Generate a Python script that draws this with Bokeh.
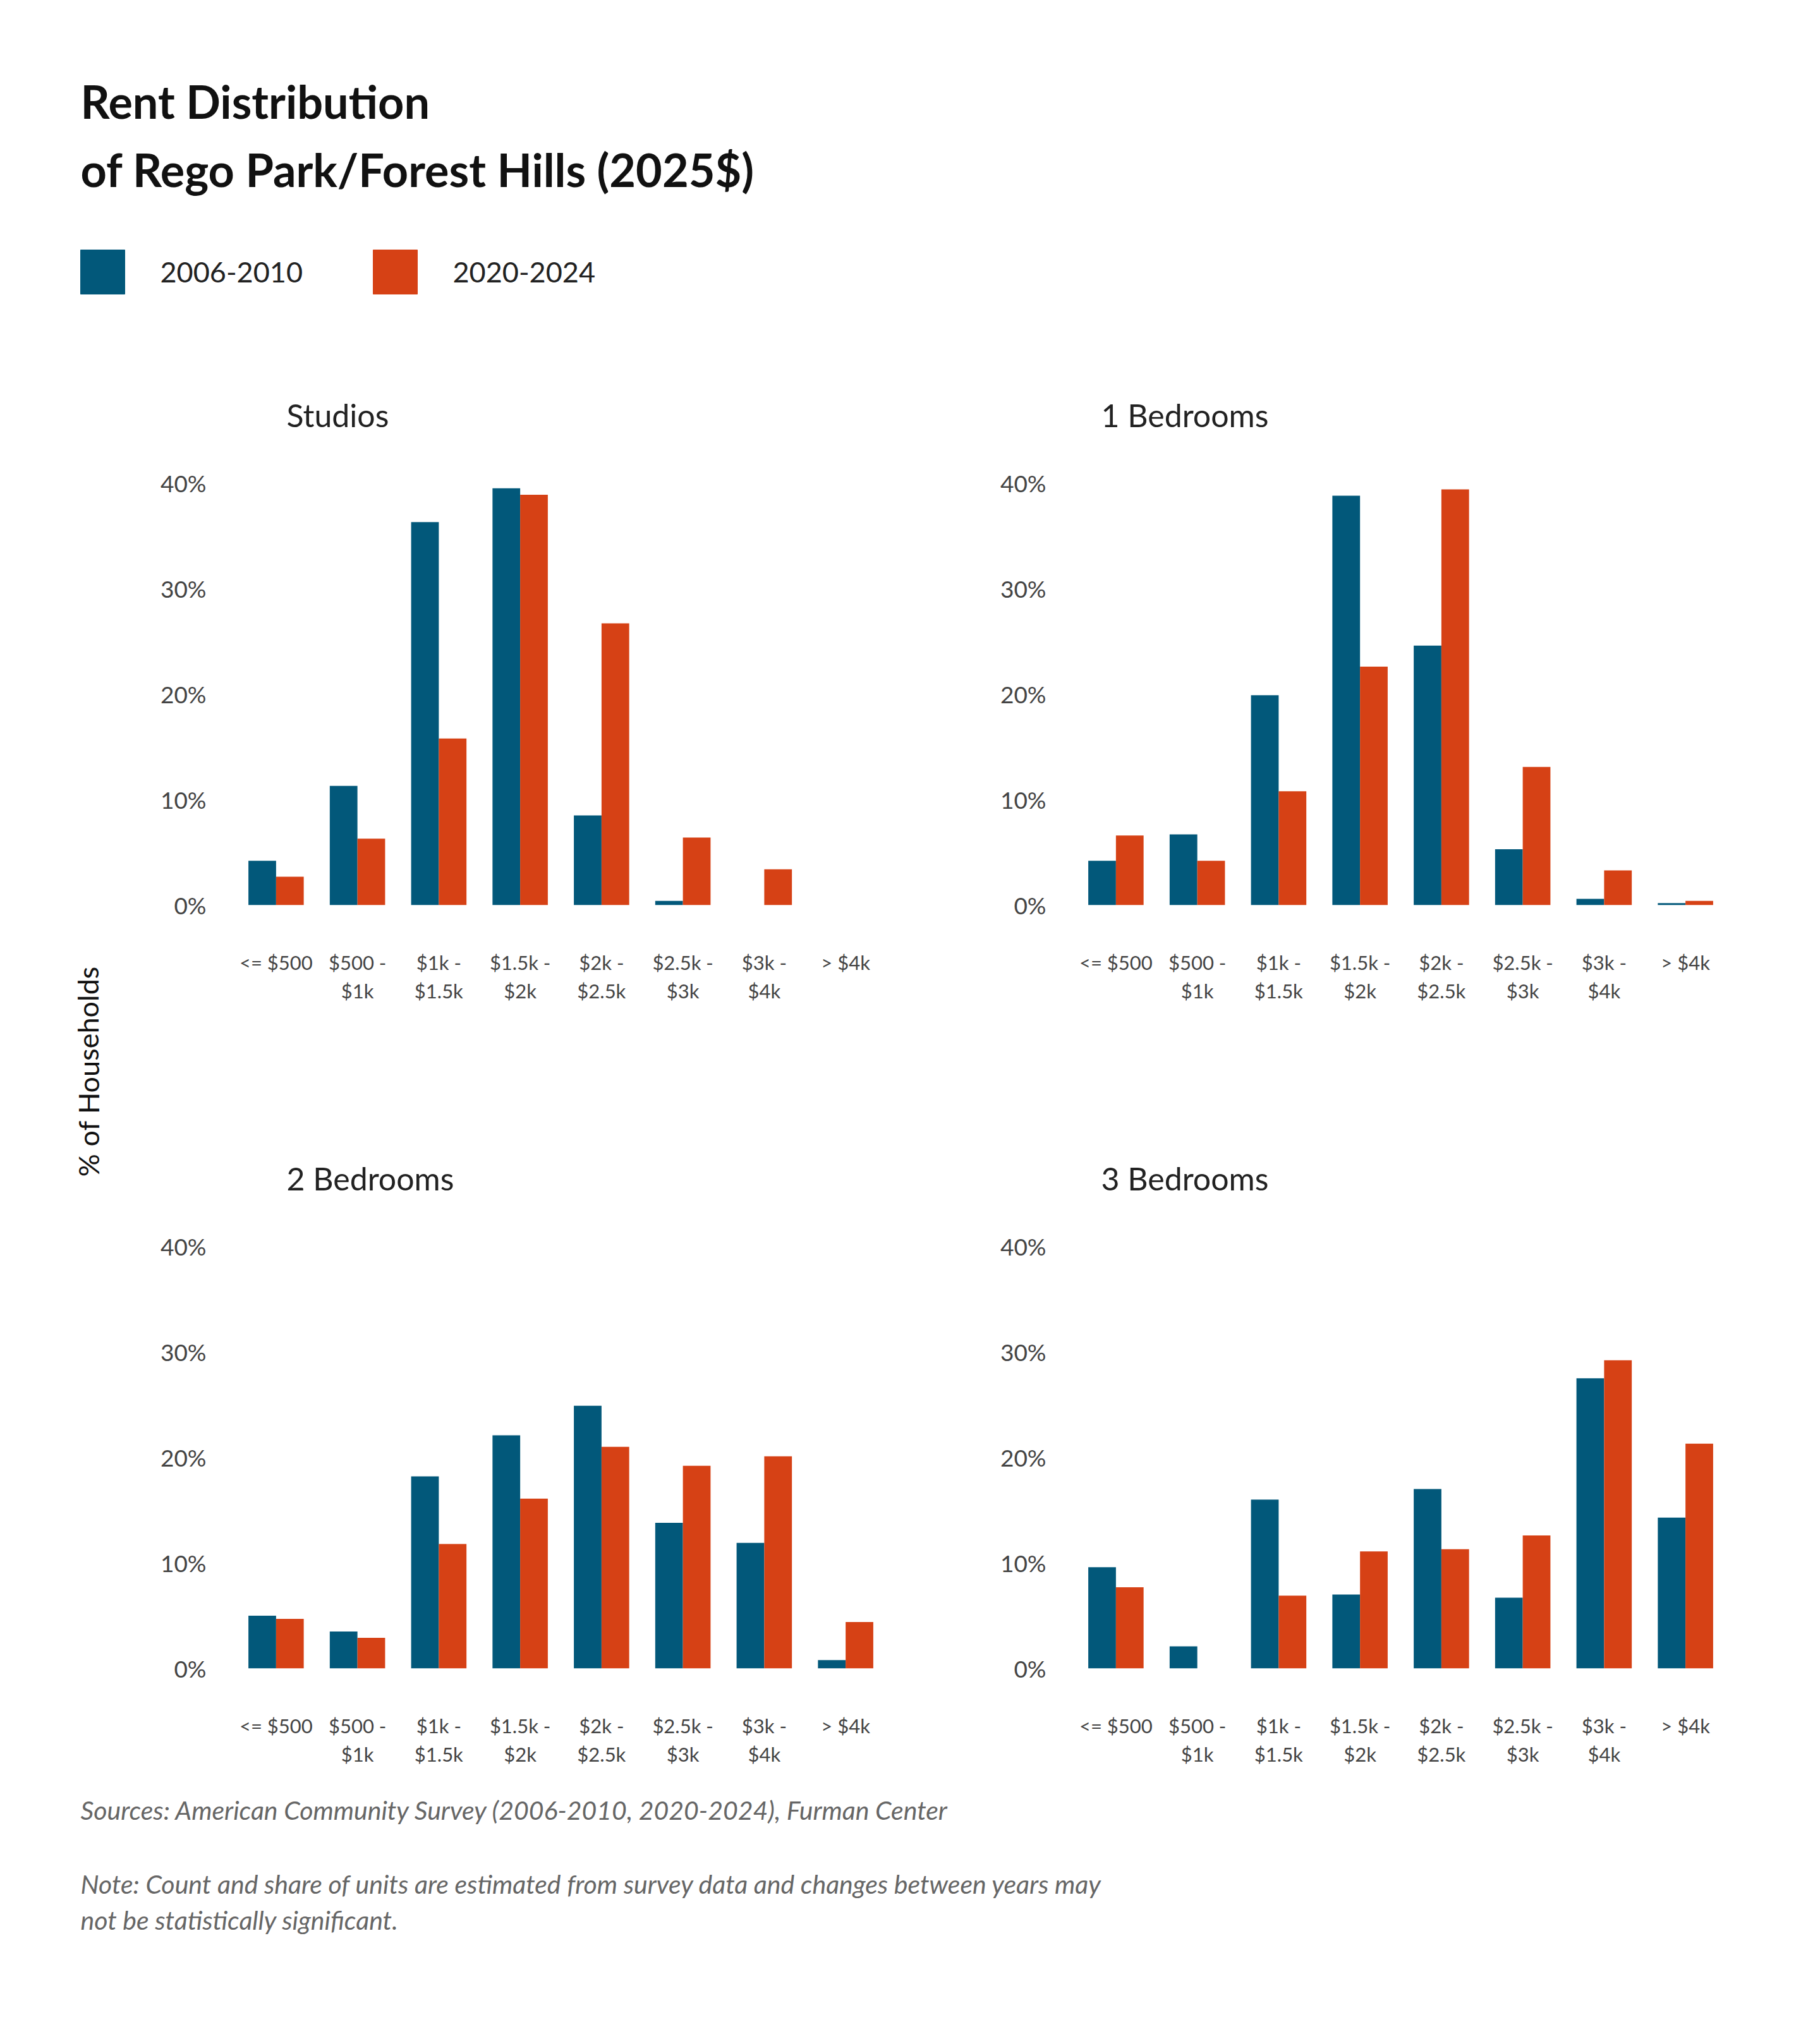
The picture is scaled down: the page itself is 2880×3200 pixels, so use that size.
from bokeh.plotting import figure
from bokeh.layouts import column, row, gridplot
from bokeh.models import FactorRange, Range1d, Label, ColumnDataSource, FixedTicker, CustomJSTickFormatter, Title
from bokeh.transform import dodge
from bokeh.embed import file_html
from bokeh.resources import INLINE

categories = ["<= $500", "$500 -\n$1k", "$1k -\n$1.5k", "$1.5k -\n$2k", "$2k -\n$2.5k", "$2.5k -\n$3k", "$3k -\n$4k", "> $4k"]
panels = ["Studios", "1 Bedrooms", "2 Bedrooms", "3 Bedrooms"]
s2006 = {
    "Studios": [4.2, 11.3, 36.3, 39.5, 8.5, 0.4, 0, 0],
    "1 Bedrooms": [4.2, 6.7, 19.9, 38.8, 24.6, 5.3, 0.6, 0.2],
    "2 Bedrooms": [5.0, 3.5, 18.2, 22.1, 24.9, 13.8, 11.9, 0.8],
    "3 Bedrooms": [9.6, 2.1, 16.0, 7.0, 17.0, 6.7, 27.5, 14.3],
}
s2020 = {
    "Studios": [2.7, 6.3, 15.8, 38.9, 26.7, 6.4, 3.4, 0],
    "1 Bedrooms": [6.6, 4.2, 10.8, 22.6, 39.4, 13.1, 3.3, 0.4],
    "2 Bedrooms": [4.7, 2.9, 11.8, 16.1, 21.0, 19.2, 20.1, 4.4],
    "3 Bedrooms": [7.7, 0, 6.9, 11.1, 11.3, 12.6, 29.2, 21.3],
}
series_labels = ["2006-2010", "2020-2024"]
BLUE = "#02587a"
ORANGE = "#d64115"
FONT = "Lato"
TXT = "#222222"


def panel(name, left_border, width, height, bottom_border):
    p = figure(x_range=FactorRange(*categories, range_padding=0.0), y_range=Range1d(0, 40.3),
               width=width, height=height, output_backend="svg", toolbar_location=None,
               min_border_left=left_border, min_border_right=width - left_border - 1030,
               min_border_top=197, min_border_bottom=bottom_border)
    t = Title(text=name, text_font=FONT, text_font_size="50px", text_font_style="normal",
              text_color=TXT, standoff=145, offset=175 - left_border + 40 + 78)
    p.add_layout(t, "above")
    p.title.visible = False
    src = ColumnDataSource(dict(cat=categories, a=s2006[name], b=s2020[name]))
    p.vbar(x=dodge("cat", -0.17, range=p.x_range), top="a", width=0.34, source=src,
           fill_color=BLUE, line_color=None)
    p.vbar(x=dodge("cat", 0.17, range=p.x_range), top="b", width=0.34, source=src,
           fill_color=ORANGE, line_color=None)
    p.outline_line_color = None
    p.grid.visible = False
    p.yaxis.ticker = FixedTicker(ticks=[0, 10, 20, 30, 40])
    p.yaxis.formatter = CustomJSTickFormatter(code="return tick + '%';")
    for ax in (p.xaxis[0], p.yaxis[0]):
        ax.axis_line_color = None
        ax.major_tick_line_color = None
        ax.minor_tick_line_color = None
        ax.major_label_text_font = FONT
        ax.major_label_text_color = "#444444"
    p.yaxis.major_label_text_font_size = "37px"
    p.yaxis.major_label_standoff = 40
    p.xaxis.major_label_text_font_size = "31px"
    p.xaxis.major_label_standoff = 65
    return p


LB = 212
W1 = 1289
figs = []
for i, name in enumerate(panels):
    lb = LB if i % 2 == 0 else 252
    if i < 2:
        figs.append(panel(name, lb, W1, 1208, 328))
    else:
        figs.append(panel(name, lb, W1, 1040, 160))
grid = gridplot([[figs[0], figs[1]], [figs[2], figs[3]]], toolbar_location=None)

# header
H = 552
head = figure(width=2864, height=H, x_range=Range1d(0, 2864), y_range=Range1d(H, 0),
              output_backend="svg", toolbar_location=None, min_border=0)
head.axis.visible = False
head.grid.visible = False
head.outline_line_color = None
for txt, y in [("Rent Distribution", 167), ("of Rego Park/Forest Hills (2025$)", 275)]:
    head.add_layout(Label(x=127, y=y - 8, text=txt, text_font=FONT, text_font_size="72px",
                          text_font_style="bold", text_color="#111111", text_baseline="middle"))
legend_x = [[127, 253], [590, 716]]
sq_x = [legend_x[0][0] + 35, legend_x[1][0] + 35]
head.rect(x=sq_x, y=[430, 430], width=70, height=70, color=[BLUE, ORANGE])
for (sx, lx), lab in zip(legend_x, series_labels):
    head.add_layout(Label(x=lx, y=430, text=lab, text_font=FONT, text_font_size="45px",
                          text_color=TXT, text_baseline="middle"))

# y label
yl = figure(width=160, height=2248, x_range=Range1d(0, 160), y_range=Range1d(0, 2248),
            output_backend="svg", toolbar_location=None, min_border=0)
yl.axis.visible = False
yl.grid.visible = False
yl.outline_line_color = None
yl.add_layout(Label(x=139, y=2248 - 1143, text="% of Households", angle=1.5708, text_font=FONT,
                    text_font_size="45px", text_color="#111111", text_align="center",
                    text_baseline="middle"))

# footer
FH = 360
foot = figure(width=2864, height=FH, x_range=Range1d(0, 2864), y_range=Range1d(FH, 0),
              output_backend="svg", toolbar_location=None, min_border=0)
foot.axis.visible = False
foot.grid.visible = False
foot.outline_line_color = None
top = 8 + H + 2248
for txt, y in [("Sources: American Community Survey (2006-2010, 2020-2024), Furman Center", 2872),
               ("Note: Count and share of units are estimated from survey data and changes between years may", 2989),
               ("not be statistically significant.", 3046)]:
    foot.add_layout(Label(x=127, y=y - top, text=txt, text_font=FONT, text_font_size="41px",
                          text_font_style="italic", text_color="#666666", text_baseline="middle"))

layout = column(head, row(yl, grid), foot)
open("out.html", "w").write(file_html(layout, INLINE))
